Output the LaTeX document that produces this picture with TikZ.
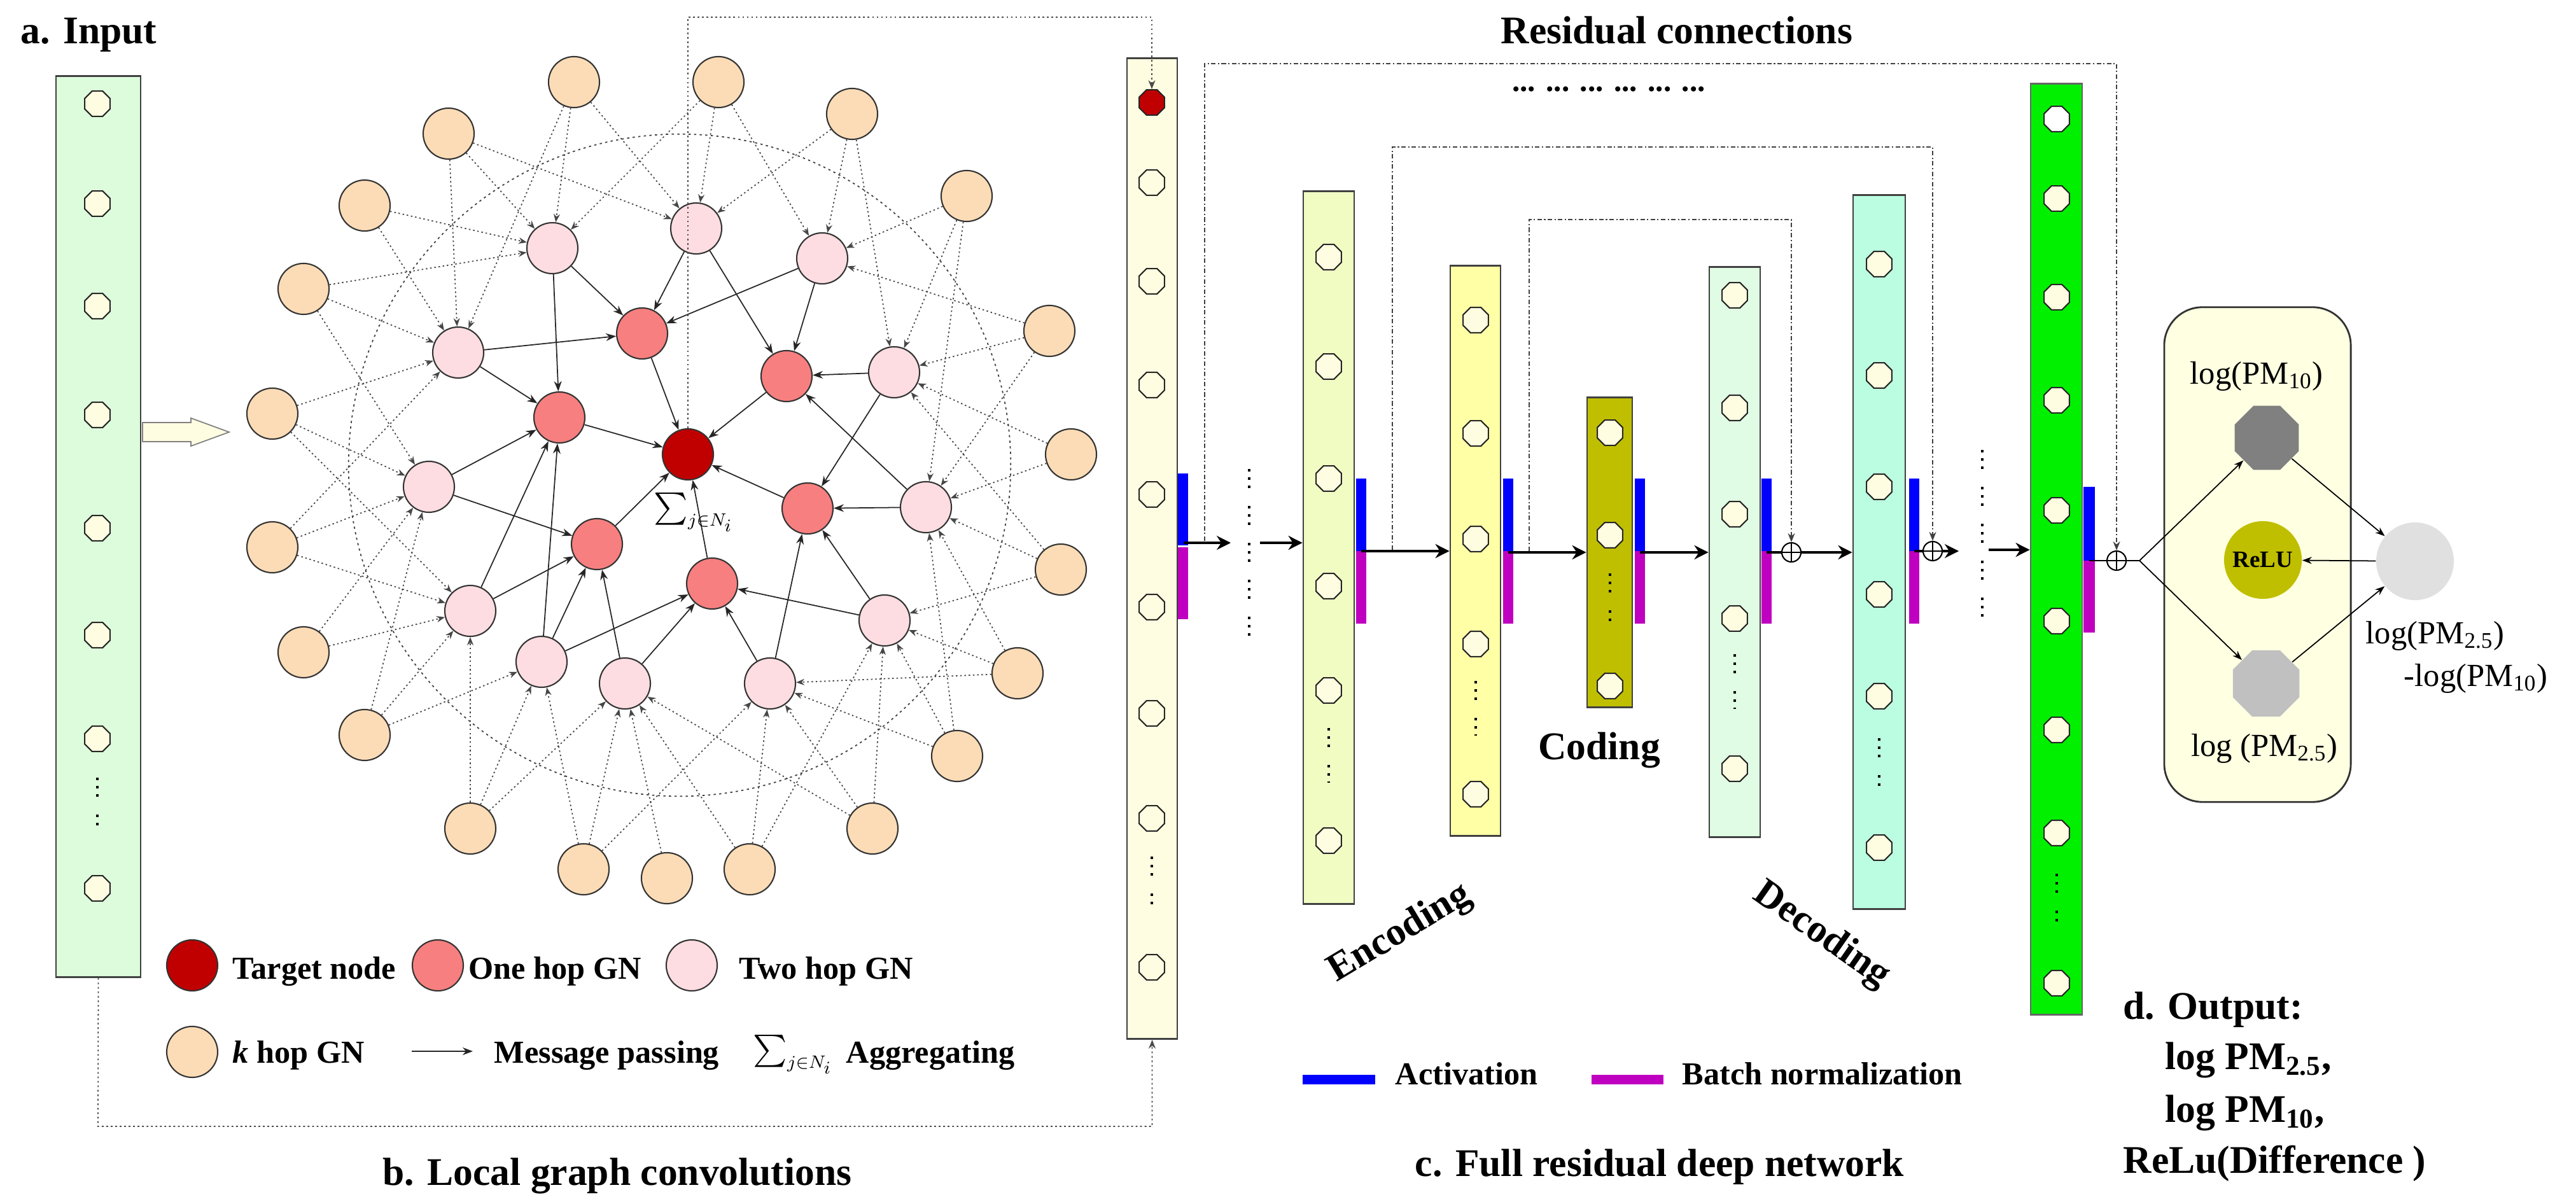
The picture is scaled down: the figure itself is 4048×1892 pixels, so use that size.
\documentclass[tikz,border=0pt]{standalone}
\usepackage{amsmath}
\usepackage{fontspec}
\setmainfont{Liberation Serif}
\usetikzlibrary{shapes.geometric,arrows.meta,calc}
\definecolor{tgt}{HTML}{C00000}
\definecolor{one}{HTML}{F77F7F}
\definecolor{two}{HTML}{FDDDE1}
\definecolor{khop}{HTML}{FCDCB6}
\definecolor{inpc}{HTML}{DCFCDC}
\definecolor{ycol}{HTML}{FFFDE1}
\definecolor{enconec}{HTML}{F1FCC3}
\definecolor{enctwoc}{HTML}{FFFFA6}
\definecolor{codc}{HTML}{BFBF00}
\definecolor{deconec}{HTML}{E0FCE4}
\definecolor{dectwoc}{HTML}{BBFDE0}
\definecolor{outg}{HTML}{00F000}
\definecolor{octc}{HTML}{FFFDE1}
\definecolor{boxc}{HTML}{FFFFE2}
\definecolor{actc}{HTML}{0000FF}
\definecolor{bnc}{HTML}{C000C0}
\definecolor{darkoct}{HTML}{808080}
\definecolor{lightoct}{HTML}{C0C0C0}
\definecolor{diffc}{HTML}{E0E0E0}
\newcommand\myTitleFont{\fontsize{17.5}{21}\selectfont\bfseries}
\newcommand\myLegFont{\fontsize{14.3}{17}\selectfont\bfseries}
\newcommand\myLblFont{\fontsize{14.4}{17}\selectfont}
\newcommand\mySig{$\sum\nolimits_{\scriptscriptstyle j\in N_i}$}
\begin{document}
\begin{tikzpicture}[x=0.01cm,y=-0.01cm,
  gn/.style={circle,draw=black!80,line width=0.6pt,minimum size=0.8cm,inner sep=0pt},
  tn/.style={gn,fill=tgt}, on/.style={gn,fill=one}, twn/.style={gn,fill=two}, kn/.style={gn,fill=khop},
  sedge/.style={-{Stealth[length=1.6mm,width=1.2mm]},line width=0.5pt,black!85},
  dedge/.style={-{Stealth[length=1.3mm,width=1mm]},line width=0.5pt,black!72,dash pattern=on 0.7pt off 1.2pt},
  oct/.style={regular polygon,regular polygon sides=8,draw=black!85,line width=0.6pt,fill=octc,minimum size=0.43cm,inner sep=0pt},
  colbox/.style={draw=black!75,line width=0.8pt,inner sep=0pt},
  mainarr/.style={-{Stealth[length=2.2mm,width=2.2mm]},line width=1.1pt},
  res/.style={line width=0.6pt,black!75,dash pattern=on 2pt off 1pt on 0.6pt off 1pt},
  tline/.style={line width=0.5pt,black!70,dash pattern=on 0.8pt off 1.2pt},
  vdotsline/.style={line width=1.1pt,dash pattern=on 1.1pt off 2.6pt on 1.1pt off 2.6pt on 1.1pt off 8pt},
  opl/.style={circle,draw,line width=0.6pt,minimum size=0.3cm,inner sep=0pt,fill=white,
    path picture={\draw[line width=0.6pt] (path picture bounding box.north) -- (path picture bounding box.south) (path picture bounding box.west) -- (path picture bounding box.east);}},
  thinarr/.style={-{Stealth[length=1.5mm,width=1.1mm]},line width=0.5pt}
]
\useasboundingbox (0,0) rectangle (4048,1892);

% ---------- titles ----------
\node[anchor=base west,inner sep=0pt,font=\myTitleFont] (ta) at (32,69) {a. Input};
\node[anchor=base,inner sep=0pt,font=\myTitleFont] (tres) at (2635,69) {Residual connections};
\node[anchor=base,inner sep=0pt,font=\myTitleFont] (tb) at (970,1862) {b. Local graph convolutions};
\node[anchor=base,inner sep=0pt,font=\myTitleFont] (tc) at (2608,1848) {c. Full residual deep network};
\node[anchor=base west,inner sep=0pt,font=\myTitleFont] (td1) at (3336,1601) {d. Output:};
\node[anchor=base west,inner sep=0pt,font=\myTitleFont] (td2) at (3402,1680) {log PM\textsubscript{2.5},};
\node[anchor=base west,inner sep=0pt,font=\myTitleFont] (td3) at (3402,1763) {log PM\textsubscript{10},};
\node[anchor=base west,inner sep=0pt,font=\myTitleFont] (td4) at (3336,1843) {ReLu(Difference )};

% ---------- input column ----------
\node[colbox,fill=inpc,minimum width=1.33cm,minimum height=14.15cm] (inp) at (154.5,827.5) {};
\foreach \yy [count=\i] in {163,320,481,652,830,998,1161,1396}
  \node[oct] (ia\i) at (153,\yy) {};
\draw[vdotsline] (153,1222) -- (153,1305);
\draw[fill=ycol,draw=black!50,line width=0.5pt] (224,664) -- (300,664) -- (300,657) -- (360,679) -- (300,701) -- (300,694) -- (224,694) -- cycle;

% ---------- graph ----------
\draw[black!75,line width=0.5pt,dash pattern=on 1pt off 1.5pt] (1068,731) circle [radius=5.2cm];

\node[tn] (g) at (1081,714) {};
\node[on] (o1) at (1009,524) {};
\node[on] (o2) at (1236,591) {};
\node[on] (o3) at (879,656) {};
\node[on] (o4) at (1269,799) {};
\node[on] (o5) at (938,855) {};
\node[on] (o6) at (1119,917) {};
\node[twn] (t1) at (868,390) {};
\node[twn] (t2) at (1094,359) {};
\node[twn] (t3) at (1292,406) {};
\node[twn] (t4) at (720,554) {};
\node[twn] (t5) at (1405,585) {};
\node[twn] (t6) at (674,765) {};
\node[twn] (t7) at (1455,797) {};
\node[twn] (t8) at (739,960) {};
\node[twn] (t9) at (1390,975) {};
\node[twn] (t10) at (851,1040) {};
\node[twn] (t11) at (982,1074) {};
\node[twn] (t12) at (1210,1074) {};
\node[kn] (p1) at (902,129) {};
\node[kn] (p2) at (1129,129) {};
\node[kn] (p3) at (705,210) {};
\node[kn] (p4) at (1339,179) {};
\node[kn] (p5) at (573,323) {};
\node[kn] (p6) at (1519,308) {};
\node[kn] (p7) at (477,454) {};
\node[kn] (p8) at (1649,520) {};
\node[kn] (p9) at (428,650) {};
\node[kn] (p10) at (1683,714) {};
\node[kn] (p11) at (428,860) {};
\node[kn] (p12) at (1667,895) {};
\node[kn] (p13) at (477,1025) {};
\node[kn] (p14) at (1599,1058) {};
\node[kn] (p15) at (573,1155) {};
\node[kn] (p16) at (1504,1188) {};
\node[kn] (p17) at (739,1302) {};
\node[kn] (p18) at (1371,1302) {};
\node[kn] (p19) at (917,1366) {};
\node[kn] (p20) at (1048,1380) {};
\node[kn] (p21) at (1178,1366) {};

\foreach \a/\b in {p1/t1,p1/t4,p1/t2,p2/t2,p2/t1,p2/t3,p3/t1,p3/t4,p3/t2,p4/t2,p4/t3,p4/t5,
  p5/t1,p5/t4,p6/t3,p6/t5,p6/t7,p7/t1,p7/t4,p7/t6,p8/t5,p8/t3,p8/t7,p9/t4,p9/t6,p9/t8,
  p10/t5,p10/t7,p11/t4,p11/t6,p11/t8,p12/t7,p12/t9,p12/t5,p13/t6,p13/t8,p14/t9,p14/t7,p14/t12,
  p15/t6,p15/t8,p15/t10,p16/t9,p16/t12,p16/t7,p17/t8,p17/t10,p17/t11,p18/t12,p18/t9,p18/t11,
  p19/t10,p19/t11,p19/t12,p20/t11,p21/t11,p21/t12,p21/t9}
  \draw[dedge] (\a) -- (\b);

\foreach \a/\b in {t1/o1,t2/o1,t3/o1,t2/o2,t3/o2,t4/o1,t4/o3,t1/o3,o1/g,o3/g,o2/g,t5/o2,t5/o4,
  t7/o2,t7/o4,o4/g,t6/o3,t6/o5,o5/g,o6/g,t8/o3,t8/o5,t10/o3,t10/o5,t10/o6,t11/o5,t11/o6,
  t12/o6,t12/o4,t9/o6,t9/o4}
  \draw[sedge] (\a) -- (\b);

\node[anchor=base west,inner sep=0pt,font=\fontsize{15.6}{18}\selectfont] (sig) at (1027,812) {\mySig};

% ---------- graph legend ----------
\node[tn] (lt) at (302,1517) {};
\node[anchor=base west,inner sep=0pt,font=\myLegFont] (ltt) at (365,1538) {Target node};
\node[on] (lo) at (688,1517) {};
\node[anchor=base west,inner sep=0pt,font=\myLegFont] (lot) at (736,1538) {One hop GN};
\node[twn] (ltw) at (1087,1517) {};
\node[anchor=base west,inner sep=0pt,font=\myLegFont] (ltwt) at (1161,1538) {Two hop GN};
\node[kn] (lk) at (302,1653) {};
\node[anchor=base west,inner sep=0pt,font=\myLegFont] (lkt) at (365,1670) {\textit{k} hop GN};
\coordinate (lm1) at (647,1652);
\coordinate (lm2) at (743,1652);
\draw[sedge] (lm1) -- (lm2);
\node[anchor=base west,inner sep=0pt,font=\myLegFont] (lmt) at (776,1670) {Message passing};
\node[anchor=base west,inner sep=0pt,font=\fontsize{15.6}{18}\selectfont] (lsig) at (1183,1664) {\mySig};
\node[anchor=base west,inner sep=0pt,font=\myLegFont] (lat) at (1329,1670) {Aggregating};

% ---------- network columns ----------
\node[colbox,fill=ycol,minimum width=0.79cm,minimum height=15.40cm] (gcol) at (1810.5,862) {};
\node[oct,fill=tgt] (yr) at (1810,161) {};
\foreach \yy [count=\i] in {287,442,605,777,954,1121,1286,1520}
  \node[oct] (yo\i) at (1810,\yy) {};
\draw[vdotsline] (1810,1346) -- (1810,1430);

\node[colbox,fill=enconec,minimum width=0.80cm,minimum height=11.19cm] (enc1) at (2088,860.5) {};
\foreach \yy [count=\i] in {404,576,752,921,1085,1321}
  \node[oct] (ea\i) at (2088,\yy) {};
\draw[vdotsline] (2088,1144) -- (2088,1230);

\node[colbox,fill=enctwoc,minimum width=0.79cm,minimum height=8.95cm] (enc2) at (2318.5,865.5) {};
\foreach \yy [count=\i] in {503,681,847,1012,1248}
  \node[oct] (eb\i) at (2319,\yy) {};
\draw[vdotsline] (2319,1070) -- (2319,1156);

\node[colbox,fill=codc,minimum width=0.71cm,minimum height=4.86cm] (cod) at (2529.5,868) {};
\foreach \yy [count=\i] in {680,841,1078}
  \node[oct] (co\i) at (2530,\yy) {};
\draw[vdotsline] (2530,901) -- (2530,985);

\node[colbox,fill=deconec,minimum width=0.80cm,minimum height=8.95cm] (dec1) at (2726,867.5) {};
\foreach \yy [count=\i] in {464,641,808,972,1208}
  \node[oct] (da\i) at (2726,\yy) {};
\draw[vdotsline] (2726,1028) -- (2726,1114);

\node[colbox,fill=dectwoc,minimum width=0.82cm,minimum height=11.21cm] (dec2) at (2953,867.5) {};
\foreach \yy [count=\i] in {415,590,765,934,1094,1332}
  \node[oct] (db\i) at (2953,\yy) {};
\draw[vdotsline] (2953,1160) -- (2953,1244);

\node[colbox,draw=black!60,fill=outg,minimum width=0.81cm,minimum height=14.62cm] (outc) at (3231.5,863) {};
\node[oct,fill=white] (oc1) at (3232,187) {};
\foreach \yy [count=\i from 2] in {312,467,629,802,976,1147,1309,1545}
  \node[oct] (oc\i) at (3232,\yy) {};
\draw[vdotsline] (3232,1373) -- (3232,1456);

% activation / batch-norm bars
\fill[actc] (1851,744) rectangle (1867,857);
\fill[bnc] (1851,860) rectangle (1867,973);
\foreach \xa in {2131,2362,2569,2768,3000} {
  \fill[actc] (\xa,752) rectangle ({\xa+16},866);
  \fill[bnc] (\xa,866) rectangle ({\xa+16},980);
}
\fill[actc] (3274,765) rectangle (3292,881);
\fill[bnc] (3274,881) rectangle (3292,994);

% plus nodes
\node[opl] (op1) at (2815,868) {};
\node[opl] (op2) at (3037,866) {};
\node[opl] (op3) at (3326,881) {};

% residual connections
\coordinate (r1s) at (1893,850);
\coordinate (r1t) at (3326,100);
\coordinate (r2s) at (2188,864);
\coordinate (r2t) at (3037,231);
\coordinate (r3s) at (2403,866);
\coordinate (r3t) at (2815,345);
\draw[res,-{Stealth[length=1.4mm,width=1.1mm]}] (r1s) |- (r1t) -- (op3.north);
\draw[res,-{Stealth[length=1.4mm,width=1.1mm]}] (r2s) |- (r2t) -- (op2.north);
\draw[res,-{Stealth[length=1.4mm,width=1.1mm]}] (r3s) |- (r3t) -- (op1.north);
\node[inner sep=0pt,font=\fontsize{14}{16}\selectfont\bfseries] (rdots) at (2528,140) {... ... ... ... ... ...};

% main flow arrows
\coordinate (a0) at (1860,853);
\coordinate (a0e) at (1934,853);
\draw[mainarr] (a0) -- (a0e);
\draw[vdotsline] (1963,737) -- (1963,1020);
\coordinate (a1) at (1980,853);
\draw[mainarr] (a1) -- (enc1.west |- a1);
\coordinate (a2) at (2139,866);
\draw[mainarr] (a2) -- (enc2.west |- a2);
\coordinate (a3) at (2370,868);
\draw[mainarr] (a3) -- (cod.west |- a3);
\coordinate (a4) at (2577,868);
\draw[mainarr] (a4) -- (dec1.west |- a4);
\coordinate (a5) at (2776,868);
\draw[line width=1.1pt] (a5) -- (op1.west);
\draw[mainarr] (op1.east) -- (dec2.west |- op1);
\coordinate (a6) at (3008,866);
\coordinate (a6e) at (3078,866);
\draw[line width=1.1pt] (a6) -- (op2.west);
\draw[mainarr] (op2.east) -- (a6e);
\draw[vdotsline] (3115,707) -- (3115,990);
\coordinate (a7) at (3125,864);
\draw[mainarr] (a7) -- (outc.west |- a7);
\coordinate (a8) at (3283,881);
\draw[line width=0.6pt] (a8) -- (op3.west);

% graph -> network dotted links
\coordinate (ytop) at (1810,27);
\draw[tline,-{Stealth[length=1.4mm,width=1.1mm]}] (g.north) |- (ytop) -- (yr.north);
\coordinate (bl) at (154,1770);
\draw[tline,-{Stealth[length=1.4mm,width=1.1mm]}] (inp.south) -- (bl) -| (gcol.south);

% network labels
\node[anchor=base,inner sep=0pt,font=\myTitleFont] (tcod) at (2513,1193) {Coding};
\node[inner sep=0pt,font=\myTitleFont,rotate=31] (tenc) at (2200,1467) {Encoding};
\node[inner sep=0pt,font=\myTitleFont,rotate=-35] (tdec) at (2862,1470) {Decoding};

% network legend
\fill[actc] (2047,1689) rectangle (2161,1704);
\node[anchor=base west,inner sep=0pt,font=\myLegFont] (lact) at (2192,1704) {Activation};
\fill[bnc] (2501,1689) rectangle (2614,1704);
\node[anchor=base west,inner sep=0pt,font=\myLegFont] (lbn) at (2643,1704) {Batch normalization};

% ---------- output box ----------
\node[draw=black!80,line width=0.8pt,rounded corners=0.6cm,fill=boxc,minimum width=2.93cm,minimum height=7.77cm,inner sep=0pt] (obox) at (3547.5,871.5) {};
\node[regular polygon,regular polygon sides=8,fill=darkoct,minimum size=1.09cm,inner sep=0pt] (pm10) at (3562,688) {};
\node[regular polygon,regular polygon sides=8,fill=lightoct,minimum size=1.13cm,inner sep=0pt] (pm25) at (3561,1074) {};
\node[circle,fill=codc,minimum size=1.22cm,inner sep=0pt,font=\fontsize{10.5}{12}\selectfont\bfseries] (relu) at (3556,880) {ReLU};
\node[circle,fill=diffc,minimum size=1.22cm,inner sep=0pt] (diff) at (3795,882) {};
\coordinate (split) at (3362,881);
\draw[line width=0.5pt] (op3.east) -- (split);
\draw[thinarr] (split) -- (pm10);
\draw[thinarr] (split) -- (pm25);
\draw[thinarr] (pm10) -- (diff);
\draw[thinarr] (pm25) -- (diff);
\draw[thinarr] (diff) -- (relu);
\node[inner sep=0pt,font=\myLblFont] (l10) at (3546,591) {log(PM\textsubscript{10})};
\node[inner sep=0pt,font=\myLblFont] (l25) at (3558,1176) {log (PM\textsubscript{2.5})};
\node[anchor=west,inner sep=0pt,font=\myLblFont] (ld1) at (3717,999) {log(PM\textsubscript{2.5})};
\node[anchor=west,inner sep=0pt,font=\myLblFont] (ld2) at (3777,1066) {-log(PM\textsubscript{10})};
\end{tikzpicture}
\end{document}
